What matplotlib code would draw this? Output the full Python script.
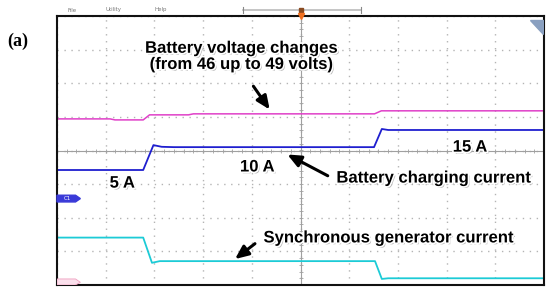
import numpy as np
import matplotlib
matplotlib.use("Agg")
import matplotlib.pyplot as plt
import matplotlib.patheffects as pe
from matplotlib.patches import Polygon

# --- trace data (oscilloscope divisions: x 0..10, y -4..4) ---
mag_t = [0, 1.09, 1.19, 1.77, 1.9, 2.7, 2.8, 6.52, 6.66, 10]
mag_v = [0.94, 0.94, 0.91, 0.91, 1.06, 1.06, 1.09, 1.09, 1.18, 1.18]

bat_t = [0, 1.77, 1.98, 2.15, 2.4, 6.51, 6.67, 6.8, 10]
bat_v = [-0.58, -0.58, 0.16, 0.11, 0.10, 0.10, 0.64, 0.61, 0.61]

gen_t = [0, 1.77, 1.95, 2.11, 6.53, 6.67, 6.8, 10]
gen_v = [-2.59, -2.59, -3.34, -3.29, -3.29, -3.82, -3.80, -3.80]

labels = ["Battery voltage changes\n(from 46 up to 49 volts)", "5 A", "10 A", "15 A",
          "Battery charging current", "Synchronous generator current"]
menu = ["File", "Utility", "Help"]

W, H = 550, 290
fig = plt.figure(figsize=(5.5, 2.9), dpi=100)
ax = fig.add_axes([57 / W, 5 / H, 487 / W, 269 / H])
ax.set_xlim(0, 10)
ax.set_ylim(-4, 4)
ax.set_xticks(np.arange(0, 11))
ax.set_yticks(np.arange(-4, 5))
ax.tick_params(length=0, labelbottom=False, labelleft=False)
ax.grid(True, color="#b4b4b4", linestyle=(0, (1, 4)), linewidth=1.0)
for s in ax.spines.values():
    s.set_linewidth(1.5)
    s.set_color("#111111")

# centre cross with small ticks
ax.axhline(0, color="#a0a0a0", lw=0.8)
ax.axvline(5, color="#a0a0a0", lw=0.8)
ax.plot(np.arange(0, 10.01, 0.2), np.zeros(51), "|", color="#a0a0a0", ms=3, mew=0.6)
ax.plot(np.full(41, 5.0), np.arange(-4, 4.01, 0.2), "_", color="#a0a0a0", ms=3, mew=0.6)

# traces
ax.plot(mag_t, mag_v, color="#e040c8", lw=1.1)
ax.plot(bat_t, bat_v, color="#1f1fcf", lw=1.3)
ax.plot(gen_t, gen_v, color="#1ccbd6", lw=1.3)

# channel tags and corner
ax.add_patch(Polygon([[0, -1.33], [0.38, -1.33], [0.48, -1.43], [0.38, -1.53], [0, -1.53]],
                     closed=True, color="#3a3ad8", zorder=5, clip_on=False))
ax.text(0.14, -1.43, "C1", color="white", fontsize=4, va="center", zorder=6)
ax.add_patch(Polygon([[0, -3.82], [0.38, -3.82], [0.48, -3.92], [0.38, -4.0], [0, -4.0]],
                     closed=True, facecolor="#fbe0ec", edgecolor="#f0a0c0", lw=0.6, zorder=5))
ax.add_patch(Polygon([[9.72, 3.88], [9.98, 3.88], [9.98, 3.45]], closed=True,
                     color="#8aa0c0", zorder=5))

fx = [pe.withSimplePatchShadow(offset=(1.3, -1.3), shadow_rgbFace="#999999", alpha=0.7),
      pe.withStroke(linewidth=2.4, foreground="white")]
kw = dict(fontsize=12, fontweight="bold", family="Liberation Sans", ha="center",
          va="center", path_effects=fx, zorder=8)

ax.text(3.78, 2.8, labels[0], linespacing=1.1, **kw)
ax.text(1.34, -0.97, labels[1], **kw)
ax.text(4.11, -0.49, labels[2], **kw)
ax.text(8.48, 0.1, labels[3], **kw)
ax.text(7.73, -0.82, labels[4], **kw)
ax.text(6.8, -2.6, labels[5], **kw)

arrow = dict(arrowstyle="-|>,head_length=0.8,head_width=0.35", color="black", lw=2.2)
ax.annotate("", xy=(4.4, 1.15), xytext=(4.0, 1.98), arrowprops=arrow, zorder=7)
ax.annotate("", xy=(4.68, -0.08), xytext=(5.61, -0.79), arrowprops=arrow, zorder=7)
ax.annotate("", xy=(3.61, -3.28), xytext=(4.11, -2.72), arrowprops=arrow, zorder=7)

# menu bar and time slider
for name, px in zip(menu, [72, 114, 161]):
    fig.text(px / W, 1 - 10 / H, name, fontsize=4, color="#777777", ha="center", va="center")
fig.add_artist(plt.Line2D([243 / W, 361 / W], [1 - 10 / H, 1 - 10 / H], color="#bbbbbb", lw=1.2))
for px in [243, 361]:
    fig.add_artist(plt.Line2D([px / W, px / W], [1 - 7 / H, 1 - 13 / H], color="#888888", lw=0.8))
fig.add_artist(plt.Line2D([301 / W], [1 - 10 / H], marker="s", ms=3.5, color="#8a4a20"))
fig.add_artist(plt.Line2D([301 / W], [1 - 16 / H], marker="v", ms=4, color="#f07020"))

fig.text(18 / W, 1 - 41 / H, "(a)", fontsize=13, family="Liberation Serif", fontweight="bold",
         ha="center", va="center")

fig.savefig("out.png", dpi=100)
